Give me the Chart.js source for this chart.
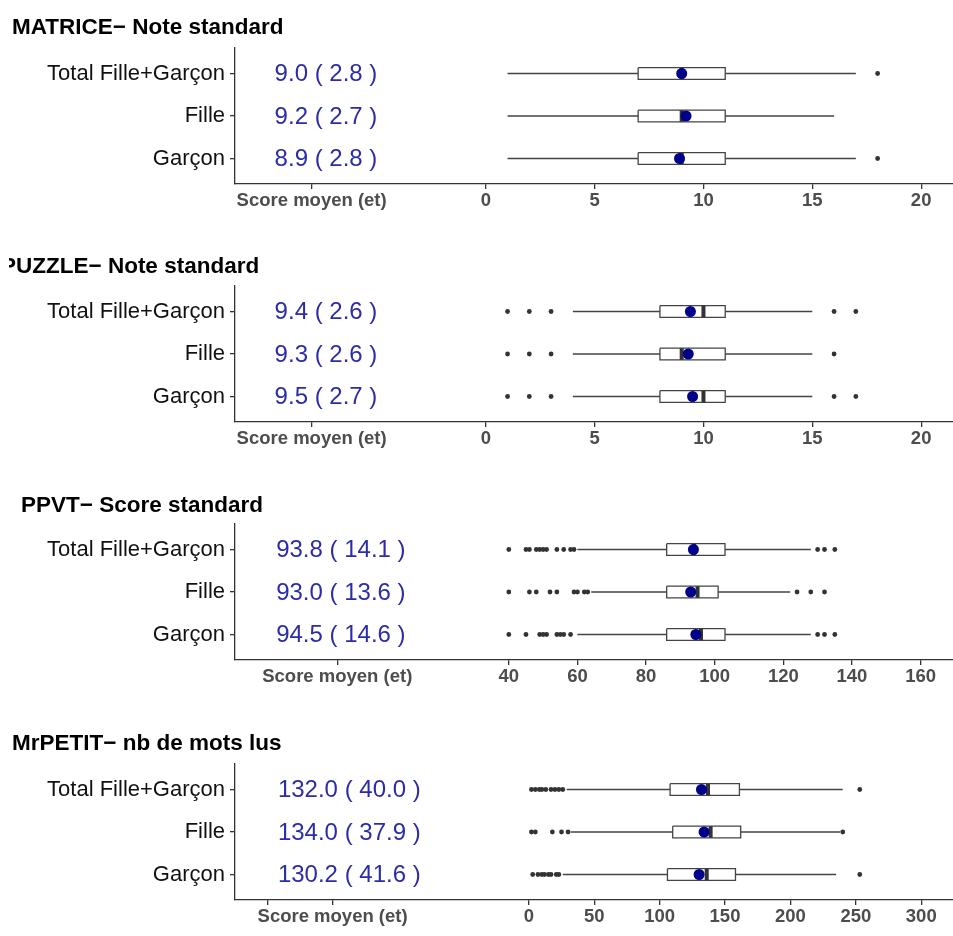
<!DOCTYPE html>
<html>
<head>
<meta charset="utf-8">
<script src="https://cdn.jsdelivr.net/npm/chart.js@4.4.1/dist/chart.umd.min.js"></script>
<style>
  html, body { margin: 0; padding: 0; background: #fff; width: 953px; height: 936px; overflow: hidden; position: relative; }
  canvas { position: absolute; left: 0; }
</style>
</head>
<body>
<canvas id="matrice" width="958" height="238" style="top:0px"></canvas>
<canvas id="puzzle" width="958" height="238" style="top:238px"></canvas>
<canvas id="ppvt" width="958" height="238" style="top:476px"></canvas>
<canvas id="petit" width="958" height="238" style="top:716px"></canvas>
<script>
// -- Data --
const groups = ['Total Fille+Garçon', 'Fille', 'Garçon'];

// MATRICE
const matriceMean = [9.0, 9.2, 8.9];
const matriceSd = [2.8, 2.7, 2.8];
const matriceLow = [1, 1, 1];
const matriceQ1 = [7, 7, 7];
const matriceMedian = [9, 9, 9];
const matriceQ3 = [11, 11, 11];
const matriceHigh = [17, 16, 17];
const matriceOutliers = [[18], [], [18]];
const matriceTicks = [-8, 0, 5, 10, 15, 20];
const matriceTickLabels = ['Score moyen (et)', '0', '5', '10', '15', '20'];

// PUZZLE
const puzzleMean = [9.4, 9.3, 9.5];
const puzzleSd = [2.6, 2.6, 2.7];
const puzzleLow = [4, 4, 4];
const puzzleQ1 = [8, 8, 8];
const puzzleMedian = [10, 9, 10];
const puzzleQ3 = [11, 11, 11];
const puzzleHigh = [15, 15, 15];
const puzzleOutliers = [[1, 2, 3, 16, 17], [1, 2, 3, 16], [1, 2, 3, 16, 17]];
const puzzleTicks = [-8, 0, 5, 10, 15, 20];
const puzzleTickLabels = ['Score moyen (et)', '0', '5', '10', '15', '20'];

// PPVT
const ppvtMean = [93.8, 93.0, 94.5];
const ppvtSd = [14.1, 13.6, 14.6];
const ppvtLow = [60, 64, 60];
const ppvtQ1 = [86, 86, 86];
const ppvtMedian = [94, 95, 96];
const ppvtQ3 = [103, 101, 103];
const ppvtHigh = [128, 122, 128];
const ppvtOutliers = [
    [40, 45, 46, 48, 49, 50, 51, 54, 56, 58, 59, 130, 132, 135],
    [40, 46, 48, 52, 54, 59, 60, 62, 63, 124, 128, 132],
    [40, 45, 49, 50, 51, 54, 55, 56, 58, 130, 132, 135]
];
const ppvtTicks = [-10, 40, 60, 80, 100, 120, 140, 160];
const ppvtTickLabels = ['Score moyen (et)', '40', '60', '80', '100', '120', '140', '160'];

// MrPETIT
const petitMean = [132.0, 134.0, 130.2];
const petitSd = [40.0, 37.9, 41.6];
const petitLow = [29, 32, 26];
const petitQ1 = [108, 110, 106];
const petitMedian = [137, 139, 136];
const petitQ3 = [161, 162, 158];
const petitHigh = [240, 238, 235];
const petitOutliers = [
    [2, 5, 8, 10, 13, 17, 20, 23, 26, 253],
    [2, 5, 18, 25, 30, 240],
    [3, 7, 10, 12, 15, 17, 21, 23, 253]
];
const petitTicks = [-200, -150, 0, 50, 100, 150, 200, 250, 300];
const petitTickLabels = ['', 'Score moyen (et)', '0', '50', '100', '150', '200', '250', '300'];

const FONT = '"Liberation Sans", Arial, sans-serif';
Chart.defaults.font.family = FONT;

// -- Plugins --
// panel title, left aligned above the plot
const panelTitle = {
    id: 'panelTitle',
    afterDraw(chart, args, opts) {
        const ctx = chart.ctx;
        ctx.save();
        if (opts.clipLeft) {
            ctx.beginPath();
            ctx.rect(opts.clipLeft, 0, chart.width, chart.height);
            ctx.clip();
        }
        ctx.font = 'bold 22.5px ' + FONT;
        ctx.fillStyle = '#000';
        ctx.textBaseline = 'alphabetic';
        ctx.textAlign = 'left';
        ctx.fillText(opts.text, opts.x, opts.y);
        ctx.restore();
    }
};

// "mean ( sd )" column, written inside the plot
const meanLabels = {
    id: 'meanLabels',
    afterDatasetsDraw(chart, args, opts) {
        const { ctx, scales: { x, y } } = chart;
        ctx.save();
        ctx.font = '24px ' + FONT;
        ctx.fillStyle = '#2c2ca8';
        ctx.textBaseline = 'middle';
        ctx.textAlign = 'left';
        opts.means.forEach((m, i) => {
            const txt = m.toFixed(1) + ' ( ' + opts.sds[i].toFixed(1) + ' )';
            ctx.fillText(txt, x.getPixelForValue(opts.at), y.getPixelForValue(i + 1) + 1);
        });
        ctx.restore();
    }
};

// -- Chart builder --
function makePanel(id, p) {
    const h = 0.137; // half box height, in row units
    const whiskers = [], boxes = [], medians = [], outliers = [], means = [];
    const gap = { x: null, y: null };

    groups.forEach((g, i) => {
        const row = i + 1;
        whiskers.push({ x: p.low[i], y: row }, { x: p.q1[i], y: row }, gap,
                      { x: p.q3[i], y: row }, { x: p.high[i], y: row }, gap);
        boxes.push({ x: p.q1[i], y: row - h }, { x: p.q3[i], y: row - h },
                   { x: p.q3[i], y: row + h }, { x: p.q1[i], y: row + h },
                   { x: p.q1[i], y: row - h }, gap);
        medians.push({ x: p.median[i], y: row - h }, { x: p.median[i], y: row + h }, gap);
        p.outliers[i].forEach(v => outliers.push({ x: v, y: row }));
        means.push({ x: p.mean[i], y: row });
    });

    const lineStyle = { showLine: true, pointRadius: 0, spanGaps: false, tension: 0, fill: false };
    const axisColor = '#333';

    return new Chart(document.getElementById(id), {
        type: 'scatter',
        data: {
            datasets: [
                { data: means, order: 0, pointRadius: 5.5, pointBackgroundColor: '#00008b', pointBorderWidth: 0 },
                { data: outliers, order: 1, pointRadius: 2.4, pointBackgroundColor: '#333', pointBorderWidth: 0 },
                { data: medians, order: 2, ...lineStyle, borderColor: '#333', borderWidth: 4, borderCapStyle: 'butt' },
                { data: boxes, order: 3, ...lineStyle, borderColor: '#444', borderWidth: 1.3, borderJoinStyle: 'miter' },
                { data: whiskers, order: 4, ...lineStyle, borderColor: '#444', borderWidth: 1.3 }
            ]
        },
        options: {
            responsive: false,
            animation: false,
            devicePixelRatio: 1,
            layout: { padding: { top: 48, bottom: 24, left: 0, right: 0 } },
            plugins: {
                legend: { display: false },
                tooltip: { enabled: false },
                panelTitle: { text: p.title, x: p.titleX, y: p.titleY, clipLeft: p.clipLeft || 0 },
                meanLabels: { means: p.mean, sds: p.sd, at: p.textAt }
            },
            scales: {
                x: {
                    type: 'linear',
                    min: p.min,
                    max: p.max,
                    afterBuildTicks: s => { s.ticks = p.ticks.map(v => ({ value: v })); },
                    afterFit: s => { s.height = 30; },
                    ticks: {
                        autoSkip: false,
                        maxRotation: 0,
                        padding: 1,
                        color: '#4d4d4d',
                        font: { size: 18.5, weight: 'bold' },
                        callback: v => p.tickLabels[p.ticks.indexOf(v)]
                    },
                    grid: { display: true, drawOnChartArea: false, drawTicks: true, tickLength: 5, color: axisColor, lineWidth: 1.3 },
                    border: { display: true, color: axisColor, width: 1.3 }
                },
                y: {
                    type: 'linear',
                    reverse: true,
                    min: 0.4,
                    max: 3.6,
                    afterBuildTicks: s => { s.ticks = groups.map((g, i) => ({ value: i + 1 })); },
                    afterFit: s => { s.width = 235; },
                    ticks: {
                        padding: 5,
                        color: '#111',
                        font: { size: 22 },
                        callback: v => groups[v - 1]
                    },
                    grid: { display: true, drawOnChartArea: false, drawTicks: true, tickLength: 5, color: axisColor, lineWidth: 1.3 },
                    border: { display: true, color: axisColor, width: 1.3 }
                }
            }
        },
        plugins: [panelTitle, meanLabels]
    });
}

makePanel('matrice', {
    title: 'MATRICE\u2212 Note standard', titleX: 12, titleY: 33.5,
    mean: matriceMean, sd: matriceSd, low: matriceLow, q1: matriceQ1, median: matriceMedian,
    q3: matriceQ3, high: matriceHigh, outliers: matriceOutliers,
    ticks: matriceTicks, tickLabels: matriceTickLabels, min: -11.52, max: 21.44, textAt: -9.7
});

makePanel('puzzle', {
    title: 'PUZZLE\u2212 Note standard', titleX: 1, titleY: 35, clipLeft: 9,
    mean: puzzleMean, sd: puzzleSd, low: puzzleLow, q1: puzzleQ1, median: puzzleMedian,
    q3: puzzleQ3, high: puzzleHigh, outliers: puzzleOutliers,
    ticks: puzzleTicks, tickLabels: puzzleTickLabels, min: -11.52, max: 21.44, textAt: -9.7
});

makePanel('ppvt', {
    title: 'PPVT\u2212 Score standard', titleX: 21, titleY: 35.5,
    mean: ppvtMean, sd: ppvtSd, low: ppvtLow, q1: ppvtQ1, median: ppvtMedian,
    q3: ppvtQ3, high: ppvtHigh, outliers: ppvtOutliers,
    ticks: ppvtTicks, tickLabels: ppvtTickLabels, min: -39.8, max: 169.3, textAt: -27.8
});

makePanel('petit', {
    title: 'MrPETIT\u2212 nb de mots lus', titleX: 12, titleY: 34,
    mean: petitMean, sd: petitSd, low: petitLow, q1: petitQ1, median: petitMedian,
    q3: petitQ3, high: petitHigh, outliers: petitOutliers,
    ticks: petitTicks, tickLabels: petitTickLabels, min: -224.6, max: 323.9, textAt: -191.8
});
</script>
</body>
</html>
